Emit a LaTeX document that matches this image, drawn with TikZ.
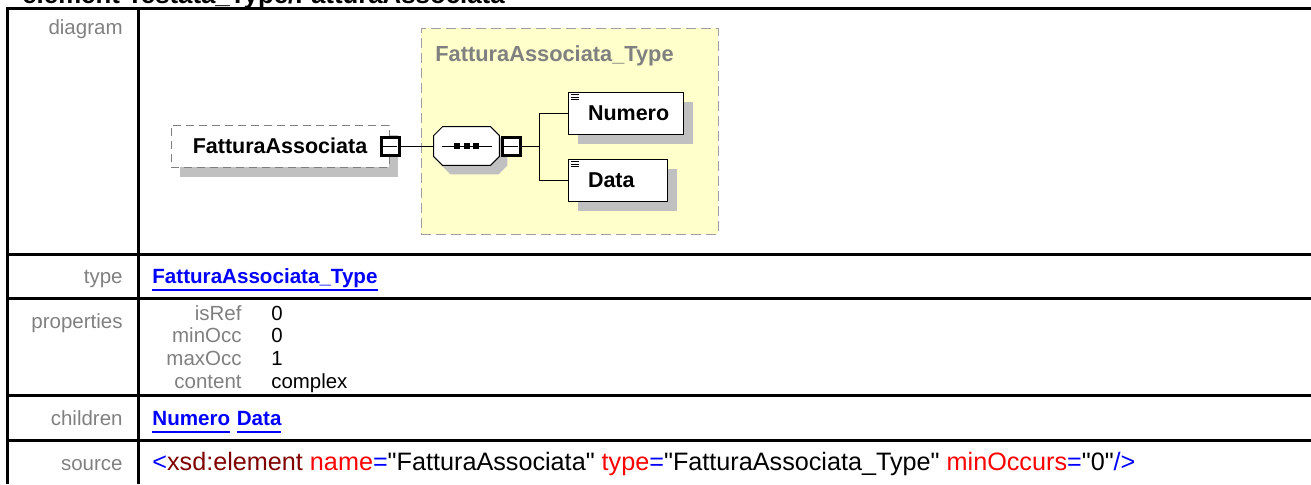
\documentclass[tikz,border=0pt]{standalone}
\usepackage{fontspec}
\setmainfont{Liberation Sans}
\usetikzlibrary{positioning,shadows}
\definecolor{LabelGray}{RGB}{128,128,128}
\definecolor{LinkBlue}{RGB}{0,0,255}
\definecolor{AttrRed}{RGB}{255,0,0}
\definecolor{TagMaroon}{RGB}{128,0,0}
\definecolor{TypeYellow}{RGB}{255,255,204}
\definecolor{ShadowGray}{RGB}{192,192,192}
\definecolor{DashGray}{RGB}{160,160,160}
\newsavebox{\lnkbox}
\newcommand{\xlink}[1]{\sbox{\lnkbox}{#1}\rlap{\rule[-4.2pt]{\wd\lnkbox}{1.1pt}}\usebox{\lnkbox}}
\newcommand{\qt}{\textquotedbl}

\begin{document}
\begin{tikzpicture}[
      x=0.5pt,y=-0.5pt,
      rowLine/.style={line width=1.5pt,color=black},
      rowLabel/.style={anchor=base east,inner sep=0pt,text=LabelGray,font=\fontsize{10.25}{12}\selectfont},
      propVal/.style={anchor=base west,inner sep=0pt,text=black,font=\fontsize{10.2}{12}\selectfont},
      linkText/.style={anchor=base west,inner sep=0pt,text=LinkBlue,font=\fontsize{10.3}{12}\selectfont\bfseries},
      srcText/.style={anchor=base west,inner sep=0pt,font=\fontsize{12.6}{14}\selectfont},
      typeBox/.style={draw=DashGray,fill=TypeYellow,dash pattern=on 5pt off 2.5pt,line width=0.5pt,
                      minimum width=148.5pt,minimum height=103pt,inner sep=0pt},
      elemBox/.style={draw=LabelGray,fill=white,dash pattern=on 4pt off 2.5pt,line width=0.5pt,
                      minimum width=109pt,minimum height=21pt,inner sep=0pt,font=\fontsize{10.75}{12}\selectfont\bfseries,
                      drop shadow={shadow xshift=4.5pt,shadow yshift=-5pt,fill=ShadowGray,opacity=1}},
      minBox/.style={draw,fill=white,line width=1.5pt,minimum size=9pt,inner sep=0pt,
                     path picture={\draw[line width=0.5pt] ([xshift=0.8pt]path picture bounding box.west) -- ([xshift=-0.8pt]path picture bounding box.east);}},
      seqBox/.style={minimum width=32.5pt,minimum height=19pt,inner sep=0pt},
      octPath/.style 2 args={insert path={
          ([xshift=#1+4.5pt,yshift=#2]seq.north west) -- ([xshift=#1-4.5pt,yshift=#2]seq.north east)
          -- ([xshift=#1,yshift=#2-4.5pt]seq.north east) -- ([xshift=#1,yshift=#2+4.5pt]seq.south east)
          -- ([xshift=#1-4.5pt,yshift=#2]seq.south east) -- ([xshift=#1+4.5pt,yshift=#2]seq.south west)
          -- ([xshift=#1,yshift=#2+4.5pt]seq.south west) -- ([xshift=#1,yshift=#2-4.5pt]seq.north west) -- cycle}},
      childBox/.style={draw,fill=white,line width=0.5pt,minimum height=21pt,inner xsep=10pt,inner ysep=0pt,
                       align=left,font=\fontsize{10.75}{12}\selectfont\bfseries,
                       drop shadow={shadow xshift=5pt,shadow yshift=-5pt,fill=ShadowGray,opacity=1}},
      conn/.style={line width=0.5pt}
    ]
    \useasboundingbox (0,0) rectangle (1311,484);

    % Heading, cut at the top edge
    \node[anchor=base west,inner sep=0pt,font=\fontsize{12.9}{15}\selectfont\bfseries] (docTitle) at (22,3.5) {element Testata\_Type/FatturaAssociata};

    % Table grid
    \draw[rowLine] (7,7.5) -- (7,484);
    \draw[rowLine] (6,8.7) -- (1311,8.7);
    \draw[rowLine] (138,8.7) -- (138,484);
    \foreach \ry in {254,298,395.7,440}
      \draw[rowLine] (6,\ry) -- (1311,\ry);

    % Row labels
    \node[rowLabel] (lblDiagram) at (123,34) {diagram};
    \node[rowLabel] (lblType) at (123,283) {type};
    \node[rowLabel] (lblProps) at (123,328) {properties};
    \node[rowLabel] (lblChildren) at (123,425) {children};
    \node[rowLabel] (lblSource) at (123,470) {source};

    % Diagram: complex type frame
    \node[typeBox] (cplxType) at (569.5,131) {};
    \node[anchor=base west,inner sep=0pt,text=LabelGray,font=\fontsize{10.9}{12}\selectfont\bfseries] (cplxTitle) at (435,61) {FatturaAssociata\_Type};

    % Diagram: element, sequence, children
    \node[elemBox] (elem) at (280,146) {FatturaAssociata};
    \node[minBox] (elemMin) at (390,146.5) {};
    \node[seqBox] (seq) at (466.5,146) {};
    \fill[ShadowGray,octPath={4pt}{-4.5pt}];
    \filldraw[fill=white,line width=0.5pt,octPath={0pt}{0pt}];
    \node[minBox] (seqMin) at (511,146.5) {};
    \coordinate (fork) at (539,146);
    \node[childBox,text width=37.5pt] (num) at (625.5,113) {Numero};
    \node[childBox,text width=29.5pt] (dat) at (617.5,180) {Data};

    % sequence glyph
    \draw[conn] ([xshift=-12.5pt]seq.center) -- ([xshift=12.5pt]seq.center);
    \foreach \sx in {-4.75,0,4.75}
      \fill ([xshift=\sx pt]seq.center) ++(-1.5pt,-1.5pt) rectangle ++(3pt,3pt);

    % child icons
    \foreach \c in {num,dat}
      \foreach \k in {1.5,2.75,4}
        \draw[line width=0.4pt] ([xshift=1.5pt,yshift=-\k pt]\c.north west) -- ++(4pt,0);

    % Connectors
    \draw[conn] (elemMin.east) -- (elemMin.east -| seq.west);
    \draw[conn] (seqMin.east |- fork) -- (fork);
    \draw[conn] (fork |- num.west) -- (fork |- dat.west);
    \draw[conn] (fork |- num.west) -- (num.west);
    \draw[conn] (fork |- dat.west) -- (dat.west);

    % Type row
    \node[linkText] (lnkType) at (152,283) {\xlink{FatturaAssociata\_Type}};

    % Properties row
    \foreach \k/\v/\yb [count=\i] in {isRef/0/320,minOcc/0/342,maxOcc/1/365,content/complex/388} {
      \node[rowLabel] (key\i) at (242,\yb) {\k};
      \node[propVal] (val\i) at (271,\yb) {\v};
    }

    % Children row
    \node[linkText] (lnkNum) at (152,425) {\xlink{Numero}};
    \node[linkText] (lnkDat) at ([xshift=2.9pt]lnkNum.base east) {\xlink{Data}};

    % Source row
    \node[srcText] (srcLine) at (152,470) {\textcolor{LinkBlue}{<}\textcolor{TagMaroon}{xsd:element} \textcolor{AttrRed}{name}\textcolor{LinkBlue}{=}\qt FatturaAssociata\qt{} \textcolor{AttrRed}{type}\textcolor{LinkBlue}{=}\qt FatturaAssociata\_Type\qt{} \textcolor{AttrRed}{minOccurs}\textcolor{LinkBlue}{=}\qt 0\qt\textcolor{LinkBlue}{/>}};
  \end{tikzpicture}
\end{document}
